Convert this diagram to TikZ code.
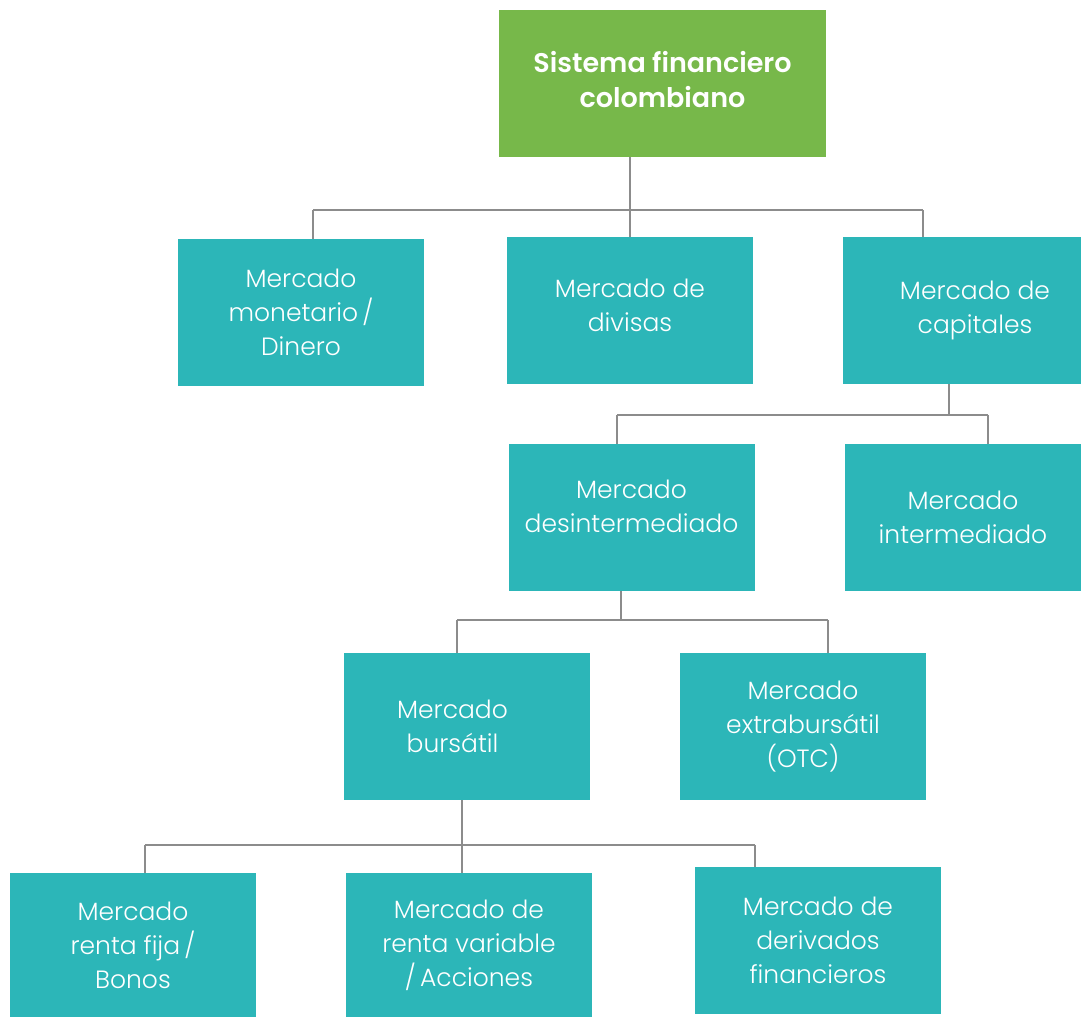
\documentclass[tikz,border=0pt]{standalone}
\usepackage{fontspec}
\setmainfont{Poppins}[UprightFont=* Light, BoldFont=* SemiBold]
\definecolor{teal1}{HTML}{2CB6B8}
\definecolor{green1}{HTML}{77B84A}
\definecolor{line1}{HTML}{8C8C8C}
\begin{document}
\begin{tikzpicture}[x=0.5pt,y=-0.5pt,
  box/.style={rectangle, fill=teal1, text=white, inner sep=0pt,
    minimum width=123pt, minimum height=73.5pt, align=center,
    font=\fontsize{12.5}{17}\selectfont},
  topbox/.style={box, fill=green1, minimum width=163.5pt, font=\fontsize{13.5}{17.5}\selectfont\bfseries},
  conn/.style={draw=line1, line width=1.4pt}]
\useasboundingbox (0,0) rectangle (1081,1017);
\node[topbox] (top) at (662.5,83.5) {Sistema financiero\\colombiano\\[-13pt]\mbox{}};
\node[box] (mon) at (301,312.5) {Mercado\\monetario\,/\\Dinero};
\node[box] (div) at (630,310.5) {Mercado de\\divisas\\[-12pt]\mbox{}};
\node[box, minimum width=119pt] (cap) at (962,310.5) {\hspace*{13pt}Mercado de\\\hspace*{13pt}capitales};
\node[box] (des) at (631.5,517.5) {Mercado\\desintermediado\\[-6pt]\mbox{}};
\node[box, minimum width=118pt] (int) at (963,517.5) {Mercado\\intermediado};
\node[box] (bur) at (466.5,726.5) {Mercado\hspace*{14pt}\\bursátil\hspace*{14pt}};
\node[box] (ext) at (803,726.5) {Mercado\\extrabursátil\\(OTC)};
\node[box, minimum height=72pt] (rf) at (133,945) {Mercado\\renta fija\,/\\Bonos};
\node[box, minimum height=72pt] (rv) at (469,945) {Mercado de\\renta variable\\/\,Acciones};
\node[box] (der) at (818,940.5) {Mercado de\\derivados\\financieros};
% level 1
\coordinate (b1l) at (313,210);
\coordinate (b1r) at (923,210);
\draw[conn] (b1l) -- (b1r);
\draw[conn] (b1l) -- (b1l |- mon.north);
\draw[conn] (b1r) -- (b1r |- cap.north);
\draw[conn] (top.south -| div.north) -- (div.north);
% level 2
\coordinate (c2) at (949,415);
\coordinate (b2l) at (617,415);
\coordinate (b2r) at (988,415);
\draw[conn] (c2 |- cap.south) -- (c2);
\draw[conn] (b2l) -- (b2r);
\draw[conn] (b2l) -- (b2l |- des.north);
\draw[conn] (b2r) -- (b2r |- int.north);
% level 3
\coordinate (c3) at (621,620);
\coordinate (b3l) at (457,620);
\coordinate (b3r) at (828,620);
\draw[conn] (c3 |- des.south) -- (c3);
\draw[conn] (b3l) -- (b3r);
\draw[conn] (b3l) -- (b3l |- bur.north);
\draw[conn] (b3r) -- (b3r |- ext.north);
% level 4
\coordinate (c4) at (462,845);
\coordinate (b4l) at (145,845);
\coordinate (b4r) at (755,845);
\draw[conn] (c4 |- bur.south) -- (c4 |- rv.north);
\draw[conn] (b4l) -- (b4r);
\draw[conn] (b4l) -- (b4l |- rf.north);
\draw[conn] (b4r) -- (b4r |- der.north);
\end{tikzpicture}
\end{document}
